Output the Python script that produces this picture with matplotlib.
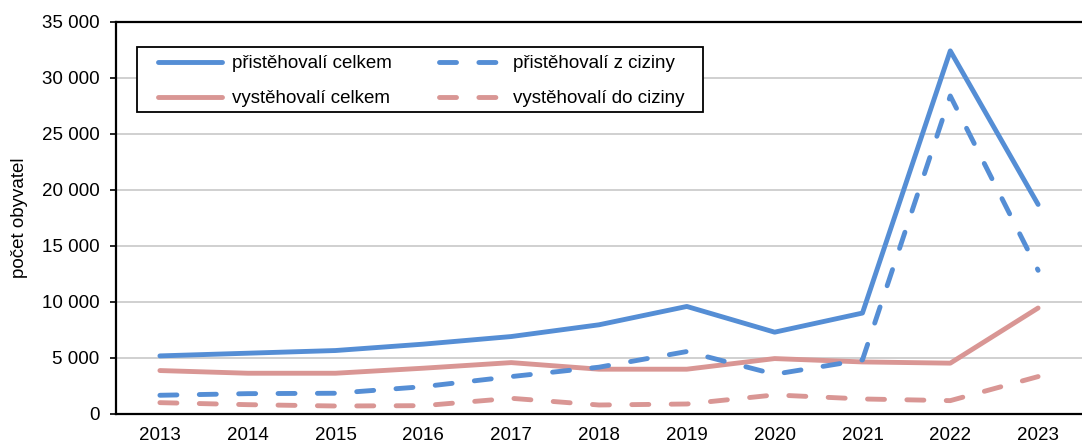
import matplotlib
matplotlib.use("Agg")
import matplotlib.pyplot as plt
from matplotlib.patches import Rectangle
from matplotlib.ticker import FuncFormatter

plt.rcParams['font.family'] = ['Liberation Sans', 'DejaVu Sans']

years = [2013, 2014, 2015, 2016, 2017, 2018, 2019, 2020, 2021, 2022, 2023]
pristehovali_celkem = [5150, 5390, 5630, 6200, 6880, 7930, 9570, 7270, 8980, 32420, 18690]
pristehovali_ciziny = [1630, 1775, 1810, 2400, 3300, 4140, 5540, 3510, 4790, 28390, 12800]
vystehovali_celkem = [3840, 3600, 3600, 4050, 4550, 3960, 3960, 4910, 4610, 4500, 9430]
vystehovali_ciziny = [970, 790, 670, 700, 1360, 760, 850, 1660, 1300, 1150, 3300]

blue = '#558ed5'
pink = '#d99694'
fs = 13.5
W, H = 1082, 443

fig = plt.figure(figsize=(W / 100, H / 100), dpi=100)
ax = fig.add_axes([116 / W, 1 - 413.5 / H, 1 - 116 / W, (413.5 - 22) / H])
x = list(range(len(years)))

lw = 3.5
dash = (3.5, 4.6)
ax.plot(x, pristehovali_celkem, color=blue, lw=lw, label='přistěhovalí celkem', solid_capstyle='round')
ax.plot(x, vystehovali_celkem, color=pink, lw=lw, label='vystěhovalí celkem', solid_capstyle='round')
ax.plot(x, pristehovali_ciziny, color=blue, lw=lw, dashes=dash, dash_capstyle='round',
        label='přistěhovalí z ciziny')
ax.plot(x, vystehovali_ciziny, color=pink, lw=lw, dashes=dash, dash_capstyle='round',
        label='vystěhovalí do ciziny')

ax.set_xlim(-0.5, len(years) - 0.5)
ax.set_ylim(0, 35000)
ax.set_yticks(range(0, 35001, 5000))
ax.yaxis.set_major_formatter(FuncFormatter(lambda v, p: f'{int(v):,}'.replace(',', ' ')))
ax.set_xticks(x)
ax.set_xticklabels([str(y) for y in years])
ax.tick_params(axis='x', length=0, labelsize=fs, pad=9.5)
ax.tick_params(axis='y', length=4.3, width=1.2, labelsize=fs, direction='out', pad=7.5)
ax.grid(axis='y', color='#c8c8c8', lw=1.2)
ax.set_axisbelow(True)
ax.spines['right'].set_visible(False)
for s in ('left', 'bottom', 'top'):
    ax.spines[s].set_color('black')
    ax.spines[s].set_linewidth(1.6)
ax.set_ylabel('počet obyvatel', fontsize=fs, va='center')
ax.yaxis.set_label_coords(-(116 - 20) / (W - 116), 0.5)

# legend content placed inside a manually drawn frame
leg = ax.legend(ncol=2, loc='upper left', bbox_to_anchor=(158 / W, 1 - 55 / H),
                bbox_transform=fig.transFigure, fontsize=fs, frameon=False,
                handlelength=3.4, handletextpad=0.55, columnspacing=2.5,
                borderpad=0, borderaxespad=0, labelspacing=0.95)
leg.set_zorder(6)
ax.add_patch(Rectangle((137 / W, 1 - 112 / H), (703 - 137) / W, (112 - 47) / H,
                       transform=fig.transFigure, facecolor='white', edgecolor='black',
                       lw=1.3, zorder=5, clip_on=False))

fig.savefig('out.png', dpi=100)
